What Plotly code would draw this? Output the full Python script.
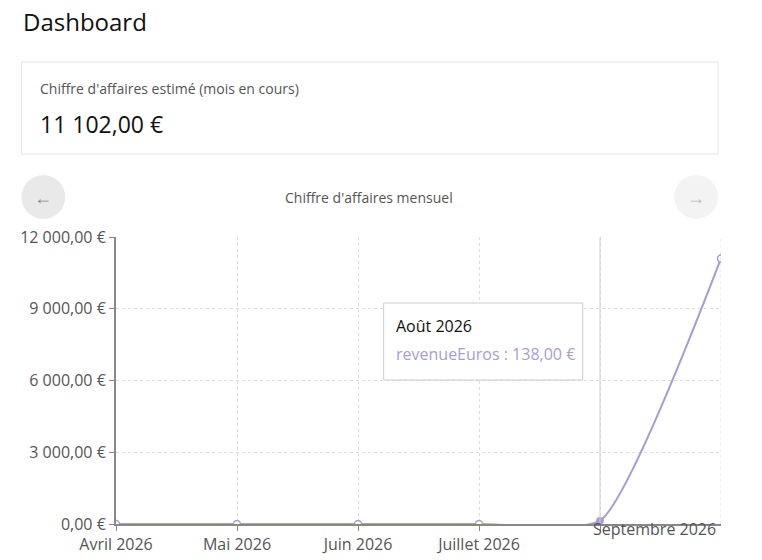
import plotly.graph_objects as go

months = ["Avril 2026", "Mai 2026", "Juin 2026", "Juillet 2026", "Août 2026", "Septembre 2026"]
tick_labels = ["Avril 2026", "Mai 2026", "Juin 2026", "Juillet 2026", "", "Septembre 2026"]
revenue = [0, 0, 0, 0, 138, 11102]
y_ticks = [0, 3000, 6000, 9000, 12000]
y_tick_labels = ["0,00 €", "3 000,00 €", "6 000,00 €", "9 000,00 €", "12 000,00 €"]

OFF = 8  # page body margin
W, H = 762, 560
L, R, T, B = 113 - OFF, 49, 237 - OFF, 44
PW, PH = W - L - R, H - T - B
def px(x): return (x - OFF - L) / PW
def py(y): return (H - B - (y - OFF)) / PH

LAV = "#a99cd0"
FONT = "Open Sans"

fig = go.Figure()
idx = list(range(len(months)))
fig.add_trace(go.Scatter(x=idx, y=revenue, mode="lines", line=dict(color=LAV, width=2, shape="spline", smoothing=0.5),
                         hoverinfo="skip", showlegend=False))
fig.add_trace(go.Scatter(x=[i for i in idx if i != 4], y=[v for i, v in zip(idx, revenue) if i != 4], mode="markers",
                         marker=dict(size=7, color="white", line=dict(color=LAV, width=1.5)), hoverinfo="skip", showlegend=False))
fig.add_trace(go.Scatter(x=[4], y=[revenue[4]], mode="markers", marker=dict(size=7, color=LAV, line=dict(color=LAV, width=1)),
                         hoverinfo="skip", showlegend=False))

shapes = [
    dict(type="rect", xref="paper", yref="paper", x0=px(18), x1=px(718), y0=py(154), y1=py(62),
         line=dict(color="#e6e6e6", width=1), fillcolor="white", layer="below"),
    dict(type="circle", xref="paper", yref="paper", x0=px(18), x1=px(62), y0=py(219), y1=py(175),
         line=dict(width=0), fillcolor="#e9e9e9"),
    dict(type="circle", xref="paper", yref="paper", x0=px(674), x1=px(718), y0=py(219), y1=py(175),
         line=dict(width=0), fillcolor="#f3f3f3"),
    dict(type="line", xref="x", yref="paper", x0=4, x1=4, y0=0, y1=1, line=dict(color="#d0d0d0", width=1)),
    dict(type="rect", xref="paper", yref="paper", x0=px(382), x1=px(582), y0=py(380), y1=py(303),
         line=dict(color="#cccccc", width=1), fillcolor="white"),
]
anns = [
    dict(text="Dashboard", x=px(18), y=py(21), xanchor="left", yanchor="middle", font=dict(size=24, color="#111")),
    dict(text="Chiffre d'affaires estimé (mois en cours)", x=px(35), y=py(88), xanchor="left", yanchor="middle", font=dict(size=14, color="#555")),
    dict(text="11 102,00 €", x=px(35), y=py(124), xanchor="left", yanchor="middle", font=dict(size=23, color="#111")),
    dict(text="Chiffre d'affaires mensuel", x=px(367), y=py(197), xanchor="center", yanchor="middle", font=dict(size=14, color="#555")),
    dict(text="←", x=px(40), y=py(197), xanchor="center", yanchor="middle", font=dict(size=18, color="#888")),
    dict(text="→", x=px(696), y=py(197), xanchor="center", yanchor="middle", font=dict(size=18, color="#bbb")),
    dict(text="Août 2026", x=px(392), y=py(326), xanchor="left", yanchor="middle", font=dict(size=16, color="#111")),
    dict(text="revenueEuros : 138,00 €", x=px(392), y=py(354), xanchor="left", yanchor="middle", font=dict(size=16, color=LAV)),
    dict(text=tick_labels[5], x=px(718), y=py(529), xanchor="right", yanchor="middle", font=dict(size=16, color="#555")),
]
for a in anns:
    a.update(xref="paper", yref="paper", showarrow=False)

fig.update_layout(
    width=W, height=H, margin=dict(l=L, r=R, t=T, b=B),
    paper_bgcolor="white", plot_bgcolor="white", font=dict(family=FONT, size=16, color="#444"),
    shapes=shapes, annotations=anns,
    xaxis=dict(range=[0, 5], tickvals=idx[:5], ticktext=tick_labels[:5], showgrid=True, gridcolor="#dddddd", griddash="dot",
               showline=True, linecolor="#888", linewidth=2, ticks="outside", ticklen=5, tickcolor="#888",
               zeroline=False, tickfont=dict(size=16, color="#555"), fixedrange=True, mirror=False),
    yaxis=dict(range=[0, 12000], tickvals=y_ticks, ticktext=y_tick_labels, showgrid=True, gridcolor="#dddddd", griddash="dot",
               showline=True, linecolor="#888", linewidth=2, ticks="outside", ticklen=5, tickcolor="#888",
               zeroline=False, tickfont=dict(size=16, color="#555"), fixedrange=True),
)
# right border grid line for last month
fig.add_shape(type="line", xref="x", yref="paper", x0=5, x1=5, y0=0, y1=1, line=dict(color="#dddddd", width=1, dash="dot"))
fig.write_html("out.html")
